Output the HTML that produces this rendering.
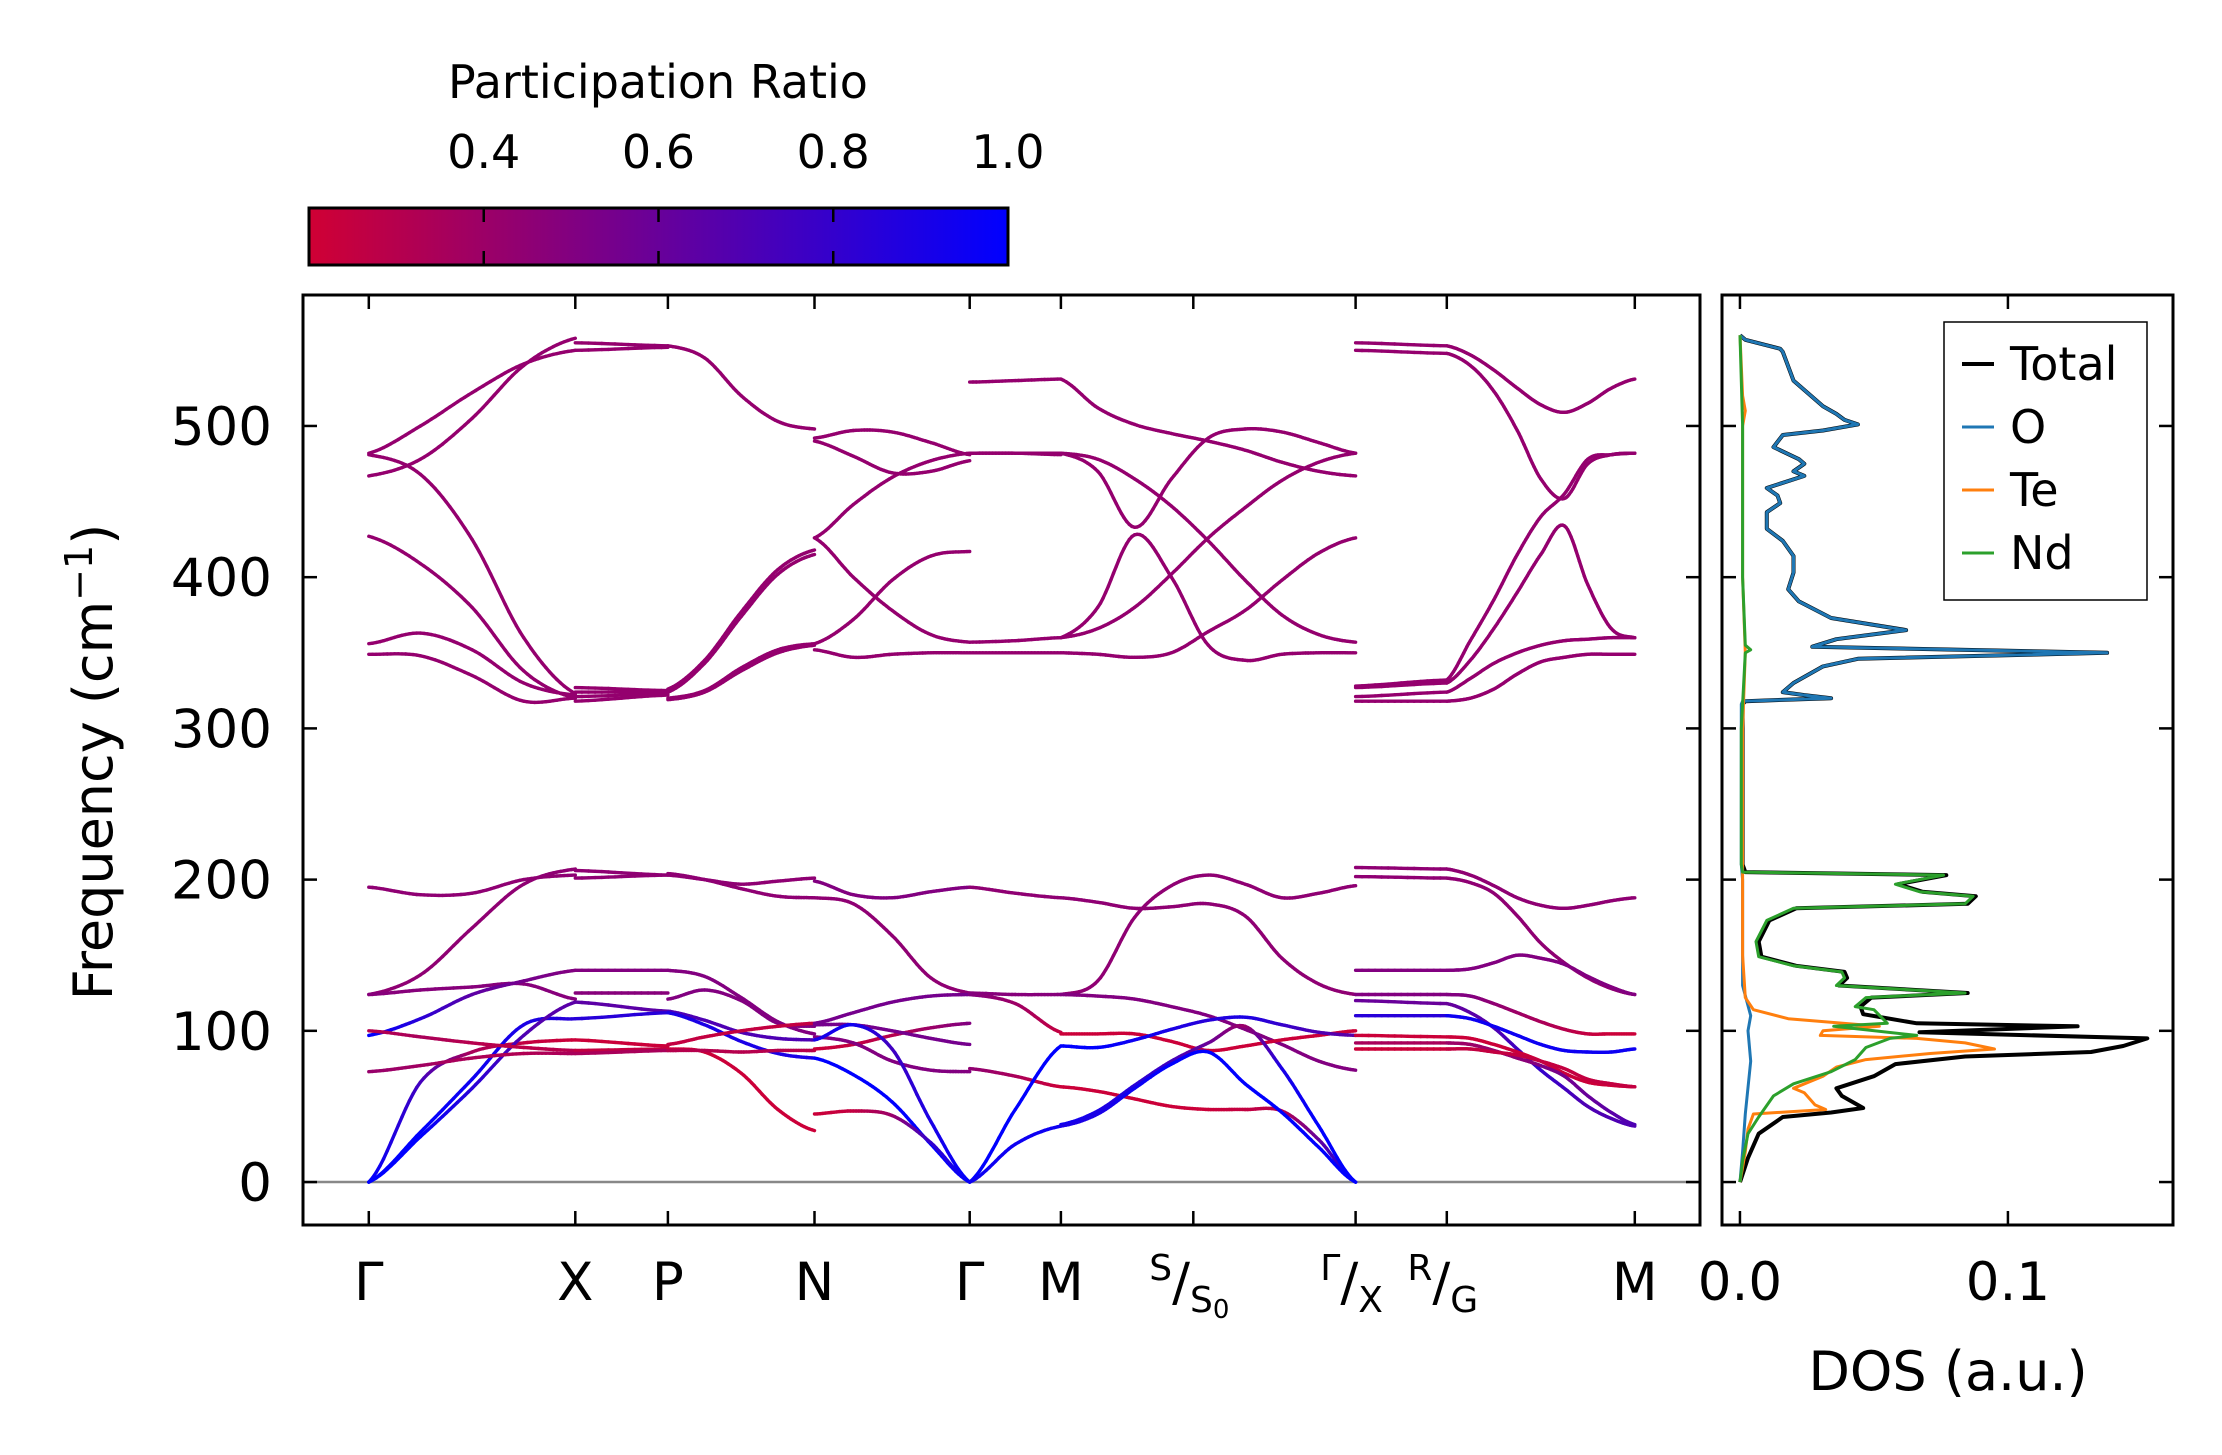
<!DOCTYPE html>
<html><head><meta charset="utf-8"><title>Phonon bands and DOS</title>
<style>
html,body{margin:0;padding:0;background:#fff;}
svg{display:block;font-family:"DejaVu Sans","Liberation Sans",sans-serif;}
</style></head>
<body>
<svg id="fig" width="2222" height="1455" viewBox="0 0 2222 1455" xmlns="http://www.w3.org/2000/svg">
  <defs>
    <linearGradient id="cmap" x1="0" x2="1" y1="0" y2="0">
      <stop offset="0" stop-color="rgb(208,0,52)"/>
      <stop offset="1" stop-color="rgb(0,0,255)"/>
    </linearGradient>
    <clipPath id="mainClip"><rect x="303" y="295" width="1397" height="930"/></clipPath>
    <clipPath id="dosClip"><rect x="1722" y="295" width="451" height="930"/></clipPath>
  </defs>
  <rect x="0" y="0" width="2222" height="1455" fill="#fff"/>

  <!-- colorbar -->
  <g>
    <text x="658" y="98" font-size="46" text-anchor="middle">Participation Ratio</text>
    <rect x="309" y="208" width="699" height="57" fill="url(#cmap)" stroke="#000" stroke-width="3"/>
    <g id="cbTicks"></g>
  </g>

  <g id="main">
    <line x1="303" x2="1700" id="zeroLine" stroke="#888" stroke-width="2.5"/>
    <g id="bands" clip-path="url(#mainClip)"></g>
    <rect x="303" y="295" width="1397" height="930" fill="none" stroke="#000" stroke-width="3"/>
    <g id="mainTicks"></g>
    <text transform="translate(112,762) rotate(-90)" font-size="54" text-anchor="middle">Frequency (cm<tspan dy="-20" font-size="38">−1</tspan><tspan dy="20">)</tspan></text>
  </g>

  <g id="dos">
    <g id="dosLines" clip-path="url(#dosClip)"></g>
    <rect x="1722" y="295" width="451" height="930" fill="none" stroke="#000" stroke-width="3"/>
    <g id="dosTicks"></g>
    <text x="1948" y="1390" font-size="54" text-anchor="middle">DOS (a.u.)</text>
    <g>
      <rect x="1944" y="322" width="203" height="278" fill="#fff" stroke="#000" stroke-width="1.5"/>
      <line x1="1962" x2="1994" y1="364" y2="364" stroke="#000" stroke-width="4"/>
      <text x="2010" y="380" font-size="46">Total</text>
      <line x1="1962" x2="1994" y1="427" y2="427" stroke="#1f77b4" stroke-width="3"/>
      <text x="2010" y="443" font-size="46">O</text>
      <line x1="1962" x2="1994" y1="490" y2="490" stroke="#ff7f0e" stroke-width="3"/>
      <text x="2010" y="506" font-size="46">Te</text>
      <line x1="1962" x2="1994" y1="553" y2="553" stroke="#2ca02c" stroke-width="3"/>
      <text x="2010" y="569" font-size="46">Nd</text>
    </g>
  </g>
</svg>
<script>
// ---------- data ----------
const yTicks = [0, 100, 200, 300, 400, 500];
const kTicks = [0, 2.065, 2.991, 4.457, 6.009, 6.921, 8.245, 9.868, 10.78, 12.66];
const kLabels = ["Γ", "X", "P", "N", "Γ", "M", "S/S0", "Γ/X", "R/G", "M"];
const cbTicks = [0.4, 0.6, 0.8, 1.0];
const dosTicks = [0.0, 0.1];
const dosTickLabels = ["0.0", "0.1"];

// band segments: [start tick index, end tick index]
const segments = [[0,1],[1,2],[2,3],[3,4],[4,5],[5,7],[7,8],[8,9]];
// each band: segment index, participation ratio (scalar or per-sample), frequencies (cm-1)
const bandSeg = [];
const bandPR = [];
const bandFreq = [];
function B(s, pr, f){ bandSeg.push(s); bandPR.push(pr); bandFreq.push(f); }
const P = 0.43;
// Γ–X
B(0,P,[482,500,522,541,550]); B(0,P,[467,478,505,540,558]); B(0,P,[481,468,425,360,323]);
B(0,P,[427,409,380,338,320]); B(0,P,[356,363,352,330,322]); B(0,P,[349,348,335,318,320]);
B(0,0.45,[195,190,191,200,203]); B(0,0.45,[124,137,168,197,207]); B(0,0.48,[124,127,129,131,121]);
B(0,[1,0.85,0.65,0.55,0.5],[97,108,124,133,140]);
B(0,[1,0.75,0.35,0.25,0.22],[0,66,86,92,94]);
B(0,[1,1,0.95,0.9,0.85],[0,33,68,104,108]);
B(0,[1,1,0.85,0.7,0.65],[0,30,62,97,119]);
B(0,[0.3,0.35,0.3,0.28,0.3],[100,96,92,89,87]);
B(0,[0.42,0.38,0.34,0.32,0.35],[73,77,82,85,85]);
// X–P
B(1,P,[555,553]); B(1,P,[550,552]); B(1,P,[327,325]); B(1,P,[324,324]); B(1,P,[321,323]); B(1,P,[318,322]);
B(1,0.45,[206,203]); B(1,0.45,[201,203]); B(1,0.5,[140,140]); B(1,0.48,[125,125]); B(1,0.65,[119,113]);
B(1,0.85,[108,112]); B(1,0.22,[94,90]); B(1,0.25,[87,88]); B(1,0.35,[85,87]);
// P–N
B(2,P,[553,545,520,503,498]); B(2,P,[326,345,377,405,418]); B(2,P,[324,343,374,402,415]);
B(2,P,[320,325,340,352,356]); B(2,P,[319,324,338,350,355]);
B(2,0.45,[204,200,194,189,188]); B(2,0.45,[203,200,197,199,201]); B(2,0.5,[140,136,122,106,98]);
B(2,0.5,[121,127,120,105,103]); B(2,0.7,[113,107,99,95,94]); B(2,0.9,[112,104,93,85,82]);
B(2,0.25,[91,96,100,103,105]); B(2,0.22,[88,86,72,48,34]); B(2,0.3,[87,87,86,87,87]);
// N–Γ
B(3,P,[492,497,496,489,481]); B(3,P,[490,480,469,470,477]); B(3,P,[426,448,466,477,482]);
B(3,P,[426,400,378,362,357]); B(3,P,[356,372,398,414,417]); B(3,P,[352,347,349,350,350]);
B(3,0.5,[199,190,188,192,195]); B(3,0.45,[188,184,163,135,125]); B(3,0.55,[105,112,119,123,124]);
B(3,[0.22,0.25,0.3,0.4,0.5],[88,91,97,102,105]); B(3,0.55,[104,104,100,95,91]); B(3,0.5,[96,92,80,74,73]);
B(3,[0.9,0.95,0.75,0.9,1],[94,104,88,40,0]); B(3,1,[82,71,53,25,0]);
B(3,[0.22,0.25,0.4,0.8,1],[45,47,44,26,0]);
// Γ–M
B(4,P,[529,530,531]); B(4,P,[482,482,482]); B(4,P,[482,482,481]); B(4,P,[357,358,360]); B(4,P,[350,350,350]);
B(4,0.45,[195,191,188]); B(4,0.48,[125,124,124]); B(4,[0.5,0.4,0.25],[124,118,99]);
B(4,[0.45,0.35,0.22],[75,70,63]); B(4,1,[0,48,90]); B(4,0.95,[0,25,37]);
// M–S–Γ/X
B(5,P,[531,512,501,495,490,484,476,470,467]); B(5,P,[482,470,433,465,492,498,496,489,482]);
B(5,P,[482,478,465,447,424,398,375,362,357]); B(5,P,[360,380,428,400,355,345,349,350,350]);
B(5,P,[360,366,380,402,426,446,464,476,482]); B(5,P,[350,349,347,350,364,378,398,416,426]);
B(5,0.45,[188,185,181,182,184,176,148,131,124]); B(5,0.45,[124,133,175,196,203,197,188,191,196]);
B(5,0.5,[124,123,121,116,110,101,91,80,74]); B(5,0.22,[98,98,98,93,87,90,94,97,100]);
B(5,[1,1,0.95,0.9,0.85,0.9,0.8,0.7,0.65],[90,89,94,101,107,109,104,99,97]);
B(5,[0.22,0.22,0.22,0.22,0.22,0.25,0.3,0.6,1],[63,60,55,50,48,48,47,28,0]);
B(5,[0.95,0.9,0.85,0.75,0.6,0.4,0.9,1,1],[38,47,64,80,92,103,75,37,0]);
B(5,[0.9,0.9,0.95,1,1,1,1,1,1],[37,45,62,78,86,65,46,23,0]);
// X–R
B(6,P,[555,553]); B(6,P,[550,548]); B(6,P,[328,332]); B(6,P,[327,330]); B(6,P,[321,324]); B(6,P,[318,318]);
B(6,0.45,[208,207]); B(6,0.45,[202,201]); B(6,0.5,[140,140]); B(6,0.5,[124,124]); B(6,0.6,[120,118]);
B(6,0.85,[110,110]); B(6,0.22,[97,96]); B(6,0.35,[92,92]); B(6,0.22,[88,88]);
// G–M
B(7,P,[553,547,537,525,514,509,515,525,531]); B(7,P,[548,540,523,497,465,452,475,481,482]);
B(7,P,[332,358,385,415,440,455,478,481,482]); B(7,P,[330,345,366,390,415,434,395,366,360]);
B(7,P,[324,333,343,350,355,358,359,360,360]); B(7,P,[318,320,326,336,344,347,349,349,349]);
B(7,0.45,[207,203,196,188,183,181,183,186,188]); B(7,0.45,[201,198,191,176,158,145,135,128,124]);
B(7,0.5,[140,141,145,150,148,144,136,129,124]);
B(7,[0.5,0.5,0.45,0.4,0.35,0.3,0.25,0.22,0.22],[124,123,118,112,106,101,98,98,98]);
B(7,[0.6,0.65,0.7,0.75,0.8,0.75,0.7,0.7,0.7],[118,112,102,88,74,62,50,42,37]);
B(7,0.95,[110,108,103,97,91,87,86,86,88]);
B(7,0.22,[96,95,91,86,80,72,66,64,63]);
B(7,[0.4,0.4,0.42,0.45,0.5,0.55,0.6,0.65,0.7],[92,91,87,82,77,70,57,46,38]);
B(7,0.25,[88,88,86,84,80,75,68,65,63]);

// DOS data
const oFreq = [0,20,45,80,100,110,130,200,210,300,316,318,320,322,324,330,341,346,350,354,359,365,373,384,392,403,414,424,432,443,449,454,459,467,470,475,478,486,494,497,501,504,508,513,530,549,551,557,560];
const oDos  = [0,0.001,0.002,0.004,0.003,0.004,0.001,0.001,0.0005,0.0005,0.0005,0.001,0.034,0.024,0.016,0.020,0.031,0.044,0.137,0.027,0.036,0.062,0.034,0.022,0.018,0.020,0.020,0.016,0.010,0.010,0.015,0.014,0.010,0.024,0.020,0.024,0.022,0.0125,0.016,0.031,0.044,0.039,0.036,0.031,0.020,0.016,0.015,0.002,0];
const teFreq = [0,20,35,45,48,51,59,62,70,76,81,85,88,92,95,97,100,103,108,114,122,150,200,300,350,400,500,510,520,560];
const teDos  = [0,0.002,0.003,0.005,0.032,0.028,0.024,0.020,0.031,0.036,0.047,0.071,0.095,0.084,0.066,0.030,0.031,0.052,0.018,0.005,0.002,0.001,0.001,0.001,0.002,0.001,0.001,0.002,0.001,0];
const ndFreq = [0,14,32,43,57,65,73,81,89,95,97,103,105,114,116,122,125,130,135,139,143,149,159,173,181,184,189,192,197,203,205,210,300,350,352,355,400,500,560];
const ndDos  = [0,0.001,0.003,0.007,0.0125,0.020,0.034,0.043,0.047,0.056,0.066,0.035,0.055,0.050,0.043,0.047,0.084,0.036,0.039,0.038,0.020,0.007,0.006,0.010,0.020,0.084,0.087,0.067,0.058,0.076,0.001,0.0005,0.0005,0.002,0.004,0.002,0.001,0.001,0];
const totFreq = [0,16,32,43,46,49,57,62,70,78,83,86,90,95,99,103,105,111,116,122,125,130,135,139,143,149,159,173,181,184,189,192,197,203,205,210,300,316,318,320,322,324,330,341,346,350,354,359,365,373,384,392,403,414,424,432,443,449,454,459,467,470,475,478,486,494,497,501,504,508,513,530,549,551,557,560];
const totDos  = [0,0.003,0.007,0.016,0.034,0.046,0.038,0.036,0.050,0.058,0.084,0.131,0.143,0.152,0.067,0.126,0.066,0.046,0.045,0.049,0.085,0.037,0.040,0.039,0.021,0.008,0.007,0.011,0.021,0.085,0.088,0.068,0.059,0.077,0.002,0.001,0.001,0.001,0.002,0.034,0.024,0.016,0.020,0.031,0.044,0.137,0.027,0.036,0.062,0.034,0.022,0.018,0.020,0.020,0.016,0.010,0.010,0.015,0.014,0.010,0.024,0.020,0.024,0.022,0.0125,0.016,0.031,0.044,0.039,0.036,0.031,0.020,0.016,0.015,0.002,0];

// ---------- axes ----------
const NS = "http://www.w3.org/2000/svg";
const PL = 303, PR = 1700, PT = 295, PB = 1225;
const DL = 1722, DR = 2173;
const kMin = -0.658, kMax = 13.312, fMin = -28.4, fMax = 586.6;
const dMin = -0.0067, dMax = 0.1616;
function xK(k){ return PL + (k - kMin) / (kMax - kMin) * (PR - PL); }
function yF(f){ return PB - (f - fMin) / (fMax - fMin) * (PB - PT); }
function xD(d){ return DL + (d - dMin) / (dMax - dMin) * (DR - DL); }
function xC(v){ return 309 + (v - 0.2) / 0.8 * 699; }
function mk(tag, attrs, parent){ const e = document.createElementNS(NS, tag); for (const a in attrs) e.setAttribute(a, attrs[a]); parent.appendChild(e); return e; }
function prColor(v){ const t = Math.max(0, Math.min(1, (v - 0.2) / 0.8)); return `rgb(${Math.round(208*(1-t))},0,${Math.round(52 + (255-52)*t)})`; }

document.getElementById('zeroLine').setAttribute('y1', yF(0));
document.getElementById('zeroLine').setAttribute('y2', yF(0));

// colorbar ticks
const cbg = document.getElementById('cbTicks');
cbTicks.forEach(v => {
  const x = xC(v);
  if (v < 1.0) {
    const t1 = mk('line', {x1:x, x2:x, y1:208, y2:222, stroke:'#000', 'stroke-width':2.5}, cbg);
    
    
    const t2 = mk('line', {x1:x, x2:x, y1:251, y2:265, stroke:'#000', 'stroke-width':2.5}, cbg);
    
    
  }
  const lb = mk('text', {x:x, y:168, 'font-size':46, 'text-anchor':'middle'}, cbg);
  lb.textContent = v.toFixed(1);
  
  
});

// main ticks
const mt = document.getElementById('mainTicks');
yTicks.forEach(v => {
  const y = yF(v);
  const a = mk('line', {x1:PL, x2:PL+14, y1:y, y2:y, stroke:'#000', 'stroke-width':2.5}, mt);
  
  
  const b = mk('line', {x1:PR-14, x2:PR, y1:y, y2:y, stroke:'#000', 'stroke-width':2.5}, mt);
  
  
  const lb = mk('text', {x:272, y:y+19, 'font-size':53, 'text-anchor':'end'}, mt);
  lb.textContent = String(v);
  
  
});
kTicks.forEach((k, i) => {
  const x = xK(k);
  const a = mk('line', {x1:x, x2:x, y1:PB-14, y2:PB, stroke:'#000', 'stroke-width':2.5}, mt);
  
  
  const b = mk('line', {x1:x, x2:x, y1:PT, y2:PT+14, stroke:'#000', 'stroke-width':2.5}, mt);
  
  
  const lab = kLabels[i];
  const t = mk('text', {x:x, y:1300, 'font-size':53, 'text-anchor':'middle'}, mt);
  
  
  if (lab.indexOf('/') >= 0) {
    const parts = lab.split('/');
    const s1 = mk('tspan', {'font-size':36, dy:-20}, t); s1.textContent = parts[0];
    const s2 = mk('tspan', {'font-size':53, dy:20}, t); s2.textContent = '/';
    let sub = parts[1];
    const s3 = mk('tspan', {'font-size':36, dy:12}, t); s3.textContent = sub.replace('0','');
    if (sub.indexOf('0') >= 0) { const s4 = mk('tspan', {'font-size':26, dy:6}, t); s4.textContent = '0'; }
    t.setAttribute('x', x - 4);
  } else {
    t.textContent = lab;
  }
});

// DOS ticks
const dt = document.getElementById('dosTicks');
yTicks.forEach(v => {
  const y = yF(v);
  const a = mk('line', {x1:DL, x2:DL+14, y1:y, y2:y, stroke:'#000', 'stroke-width':2.5}, dt);
  
  
  const b = mk('line', {x1:DR-14, x2:DR, y1:y, y2:y, stroke:'#000', 'stroke-width':2.5}, dt);
  
  
});
dosTicks.forEach((v, i) => {
  const x = xD(v);
  const a = mk('line', {x1:x, x2:x, y1:PB-14, y2:PB, stroke:'#000', 'stroke-width':2.5}, dt);
  
  
  const b = mk('line', {x1:x, x2:x, y1:PT, y2:PT+14, stroke:'#000', 'stroke-width':2.5}, dt);
  
  
  const t = mk('text', {x:x, y:1300, 'font-size':53, 'text-anchor':'middle'}, dt);
  t.textContent = dosTickLabels[i];
  
  
});

// ---------- bands ----------
const bg = document.getElementById('bands');
function cr(p0, p1, p2, p3, t){ const t2=t*t, t3=t2*t; return 0.5*((2*p1)+(-p0+p2)*t+(2*p0-5*p1+4*p2-p3)*t2+(-p0+3*p1-3*p2+p3)*t3); }
bandFreq.forEach((f, bi) => {
  const seg = segments[bandSeg[bi]];
  const k0 = kTicks[seg[0]], k1 = kTicks[seg[1]];
  const n = f.length;
  const prArr = Array.isArray(bandPR[bi]) ? bandPR[bi] : f.map(() => bandPR[bi]);
  const pts = [];
  const SUB = 14;
  for (let i = 0; i < n - 1; i++) {
    const p0 = f[Math.max(0, i-1)], p1 = f[i], p2 = f[i+1], p3 = f[Math.min(n-1, i+2)];
    for (let s = 0; s < SUB; s++) {
      const t = s / SUB;
      const u = (i + t) / (n - 1);
      pts.push([xK(k0 + (k1-k0)*u), yF(cr(p0,p1,p2,p3,t)), prArr[i] + (prArr[i+1]-prArr[i])*t]);
    }
  }
  pts.push([xK(k1), yF(f[n-1]), prArr[n-1]]);
  const g = mk('g', {}, bg);
  
  
  for (let j = 0; j < pts.length - 1; j++) {
    const a = pts[j], b = pts[j+1];
    mk('line', {x1:a[0].toFixed(1), y1:a[1].toFixed(1), x2:b[0].toFixed(1), y2:b[1].toFixed(1), stroke:prColor((a[2]+b[2])/2), 'stroke-width':3.4, 'stroke-linecap':'round'}, g);
  }
});

// ---------- DOS ----------
const dl = document.getElementById('dosLines');
function dosLine(fr, ds, color, w, name){
  const d = fr.map((f, i) => (i ? 'L' : 'M') + xD(ds[i]).toFixed(1) + ',' + yF(f).toFixed(1)).join(' ');
  const p = mk('path', {d:d, fill:'none', stroke:color, 'stroke-width':w, 'stroke-linejoin':'round'}, dl);
  
  
}
dosLine(totFreq, totDos, '#000', 4, 'dos-total-line');
dosLine(oFreq, oDos, '#1f77b4', 3, 'dos-o-line');
dosLine(teFreq, teDos, '#ff7f0e', 3, 'dos-te-line');
dosLine(ndFreq, ndDos, '#2ca02c', 3, 'dos-nd-line');
</script>
</body></html>
